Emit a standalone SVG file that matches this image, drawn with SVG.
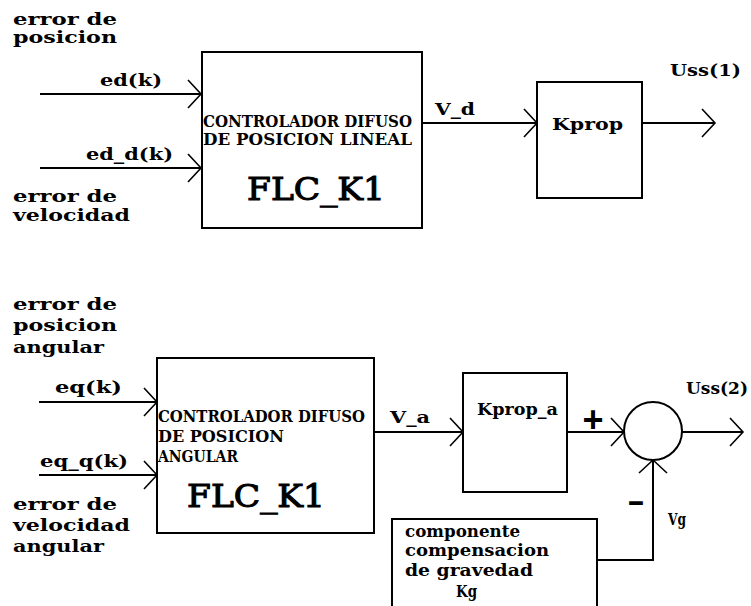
<svg xmlns="http://www.w3.org/2000/svg" width="751" height="606" viewBox="0 0 751 606">
<style>
  .t { font-family: "DejaVu Serif", "Liberation Serif", serif; font-weight: bold; font-size: 16px; fill: #000; }
  .u { font-family: "DejaVu Serif", "Liberation Serif", serif; font-weight: bold; font-size: 16px; fill: #000; }
  .big { font-family: "DejaVu Serif", "Liberation Serif", serif; font-weight: normal; font-size: 32px; fill: #000; stroke: #000; stroke-width: 1.1; }
  .box { fill: none; stroke: #000; stroke-width: 2; }
  .ln { fill: none; stroke: #000; stroke-width: 2; }
  .sg { font-family: "Liberation Sans", Arial, sans-serif; font-weight: bold; fill: #000; }
</style>
<defs>
  <marker id="arr" markerUnits="userSpaceOnUse" markerWidth="18" markerHeight="32" refX="14" refY="15" orient="auto">
    <path d="M1,1 L14,15 L1,29" fill="none" stroke="#000" stroke-width="1.6"/>
  </marker>
</defs>
<rect width="751" height="606" fill="#fff"/>

<g id="labels">
  <text class="t" x="13" y="25" textLength="104" lengthAdjust="spacingAndGlyphs">error de</text>
  <text class="t" x="13" y="43" textLength="104" lengthAdjust="spacingAndGlyphs">posicion</text>
  <text class="t" x="100" y="86" textLength="62" lengthAdjust="spacingAndGlyphs">ed(k)</text>
  <text class="t" x="86" y="160" textLength="87" lengthAdjust="spacingAndGlyphs">ed_d(k)</text>
  <text class="t" x="13" y="202" textLength="104" lengthAdjust="spacingAndGlyphs">error de</text>
  <text class="t" x="13" y="221" textLength="117" lengthAdjust="spacingAndGlyphs">velocidad</text>
  <text class="t" x="435" y="115" textLength="40" lengthAdjust="spacingAndGlyphs">V_d</text>
  <text class="t" x="670" y="76" textLength="71" lengthAdjust="spacingAndGlyphs">Uss(1)</text>

  <text class="t" x="13" y="310" textLength="104" lengthAdjust="spacingAndGlyphs">error de</text>
  <text class="t" x="13" y="331" textLength="104" lengthAdjust="spacingAndGlyphs">posicion</text>
  <text class="t" x="13" y="353" textLength="91" lengthAdjust="spacingAndGlyphs">angular</text>
  <text class="t" x="55" y="393" textLength="67" lengthAdjust="spacingAndGlyphs">eq(k)</text>
  <text class="t" x="40" y="467" textLength="88" lengthAdjust="spacingAndGlyphs">eq_q(k)</text>
  <text class="t" x="13" y="510" textLength="104" lengthAdjust="spacingAndGlyphs">error de</text>
  <text class="t" x="13" y="531" textLength="117" lengthAdjust="spacingAndGlyphs">velocidad</text>
  <text class="t" x="13" y="552" textLength="91" lengthAdjust="spacingAndGlyphs">angular</text>
  <text class="t" x="390" y="423" textLength="40" lengthAdjust="spacingAndGlyphs">V_a</text>
  <text class="t" x="686" y="394" textLength="62" lengthAdjust="spacingAndGlyphs">Uss(2)</text>
  <text class="sg" x="593" y="432" font-size="36" text-anchor="middle">+</text>
  <text class="sg" x="627" y="511" font-size="32" textLength="18" lengthAdjust="spacingAndGlyphs">-</text>
  <text class="t" x="668" y="525" textLength="18" lengthAdjust="spacingAndGlyphs">Vg</text>
</g>

<g id="flc1">
  <rect class="box" x="202" y="52" width="220" height="176"/>
  <text class="u" x="203" y="127" textLength="209" lengthAdjust="spacingAndGlyphs">CONTROLADOR DIFUSO</text>
  <text class="u" x="203" y="145" textLength="209" lengthAdjust="spacingAndGlyphs">DE POSICION LINEAL</text>
  <text class="big" x="247" y="200" textLength="138" lengthAdjust="spacingAndGlyphs">FLC_K1</text>
</g>

<g id="kprop">
  <rect class="box" x="537" y="82" width="105" height="116"/>
  <text class="t" x="552" y="130" textLength="71" lengthAdjust="spacingAndGlyphs">Kprop</text>
</g>

<g id="flc2">
  <rect class="box" x="157" y="358" width="217" height="175"/>
  <text class="u" x="158" y="422" textLength="207" lengthAdjust="spacingAndGlyphs">CONTROLADOR DIFUSO</text>
  <text class="u" x="158" y="442" textLength="126" lengthAdjust="spacingAndGlyphs">DE POSICION</text>
  <text class="u" x="158" y="462" textLength="80" lengthAdjust="spacingAndGlyphs">ANGULAR</text>
  <text class="big" x="187" y="507" textLength="138" lengthAdjust="spacingAndGlyphs">FLC_K1</text>
</g>

<g id="kprop_a">
  <rect class="box" x="463" y="373" width="104" height="119"/>
  <text class="t" x="477" y="415" textLength="81" lengthAdjust="spacingAndGlyphs">Kprop_a</text>
</g>

<g id="sum">
  <circle class="box" cx="653" cy="431" r="29"/>
</g>

<g id="kg">
  <rect class="box" x="392" y="519" width="205" height="100"/>
  <text class="t" x="405" y="537" textLength="115" lengthAdjust="spacingAndGlyphs">componente</text>
  <text class="t" x="405" y="556" textLength="144" lengthAdjust="spacingAndGlyphs">compensacion</text>
  <text class="t" x="405" y="576" textLength="128" lengthAdjust="spacingAndGlyphs">de gravedad</text>
  <text class="t" x="456" y="597" textLength="21" lengthAdjust="spacingAndGlyphs">Kg</text>
</g>

<g id="connectors">
  <path class="ln" d="M40,94 H201" marker-end="url(#arr)"/>
  <path class="ln" d="M40,168 H201" marker-end="url(#arr)"/>
  <path class="ln" d="M422,123 H537" marker-end="url(#arr)"/>
  <path class="ln" d="M642,123 H715" marker-end="url(#arr)"/>
  <path class="ln" d="M39,402 H157" marker-end="url(#arr)"/>
  <path class="ln" d="M39,475 H157" marker-end="url(#arr)"/>
  <path class="ln" d="M374,432 H463" marker-end="url(#arr)"/>
  <path class="ln" d="M567,432 H624" marker-end="url(#arr)"/>
  <path class="ln" d="M682,432 H743" marker-end="url(#arr)"/>
  <path class="ln" d="M597,560 H653 V460" marker-end="url(#arr)"/>
</g>
</svg>
